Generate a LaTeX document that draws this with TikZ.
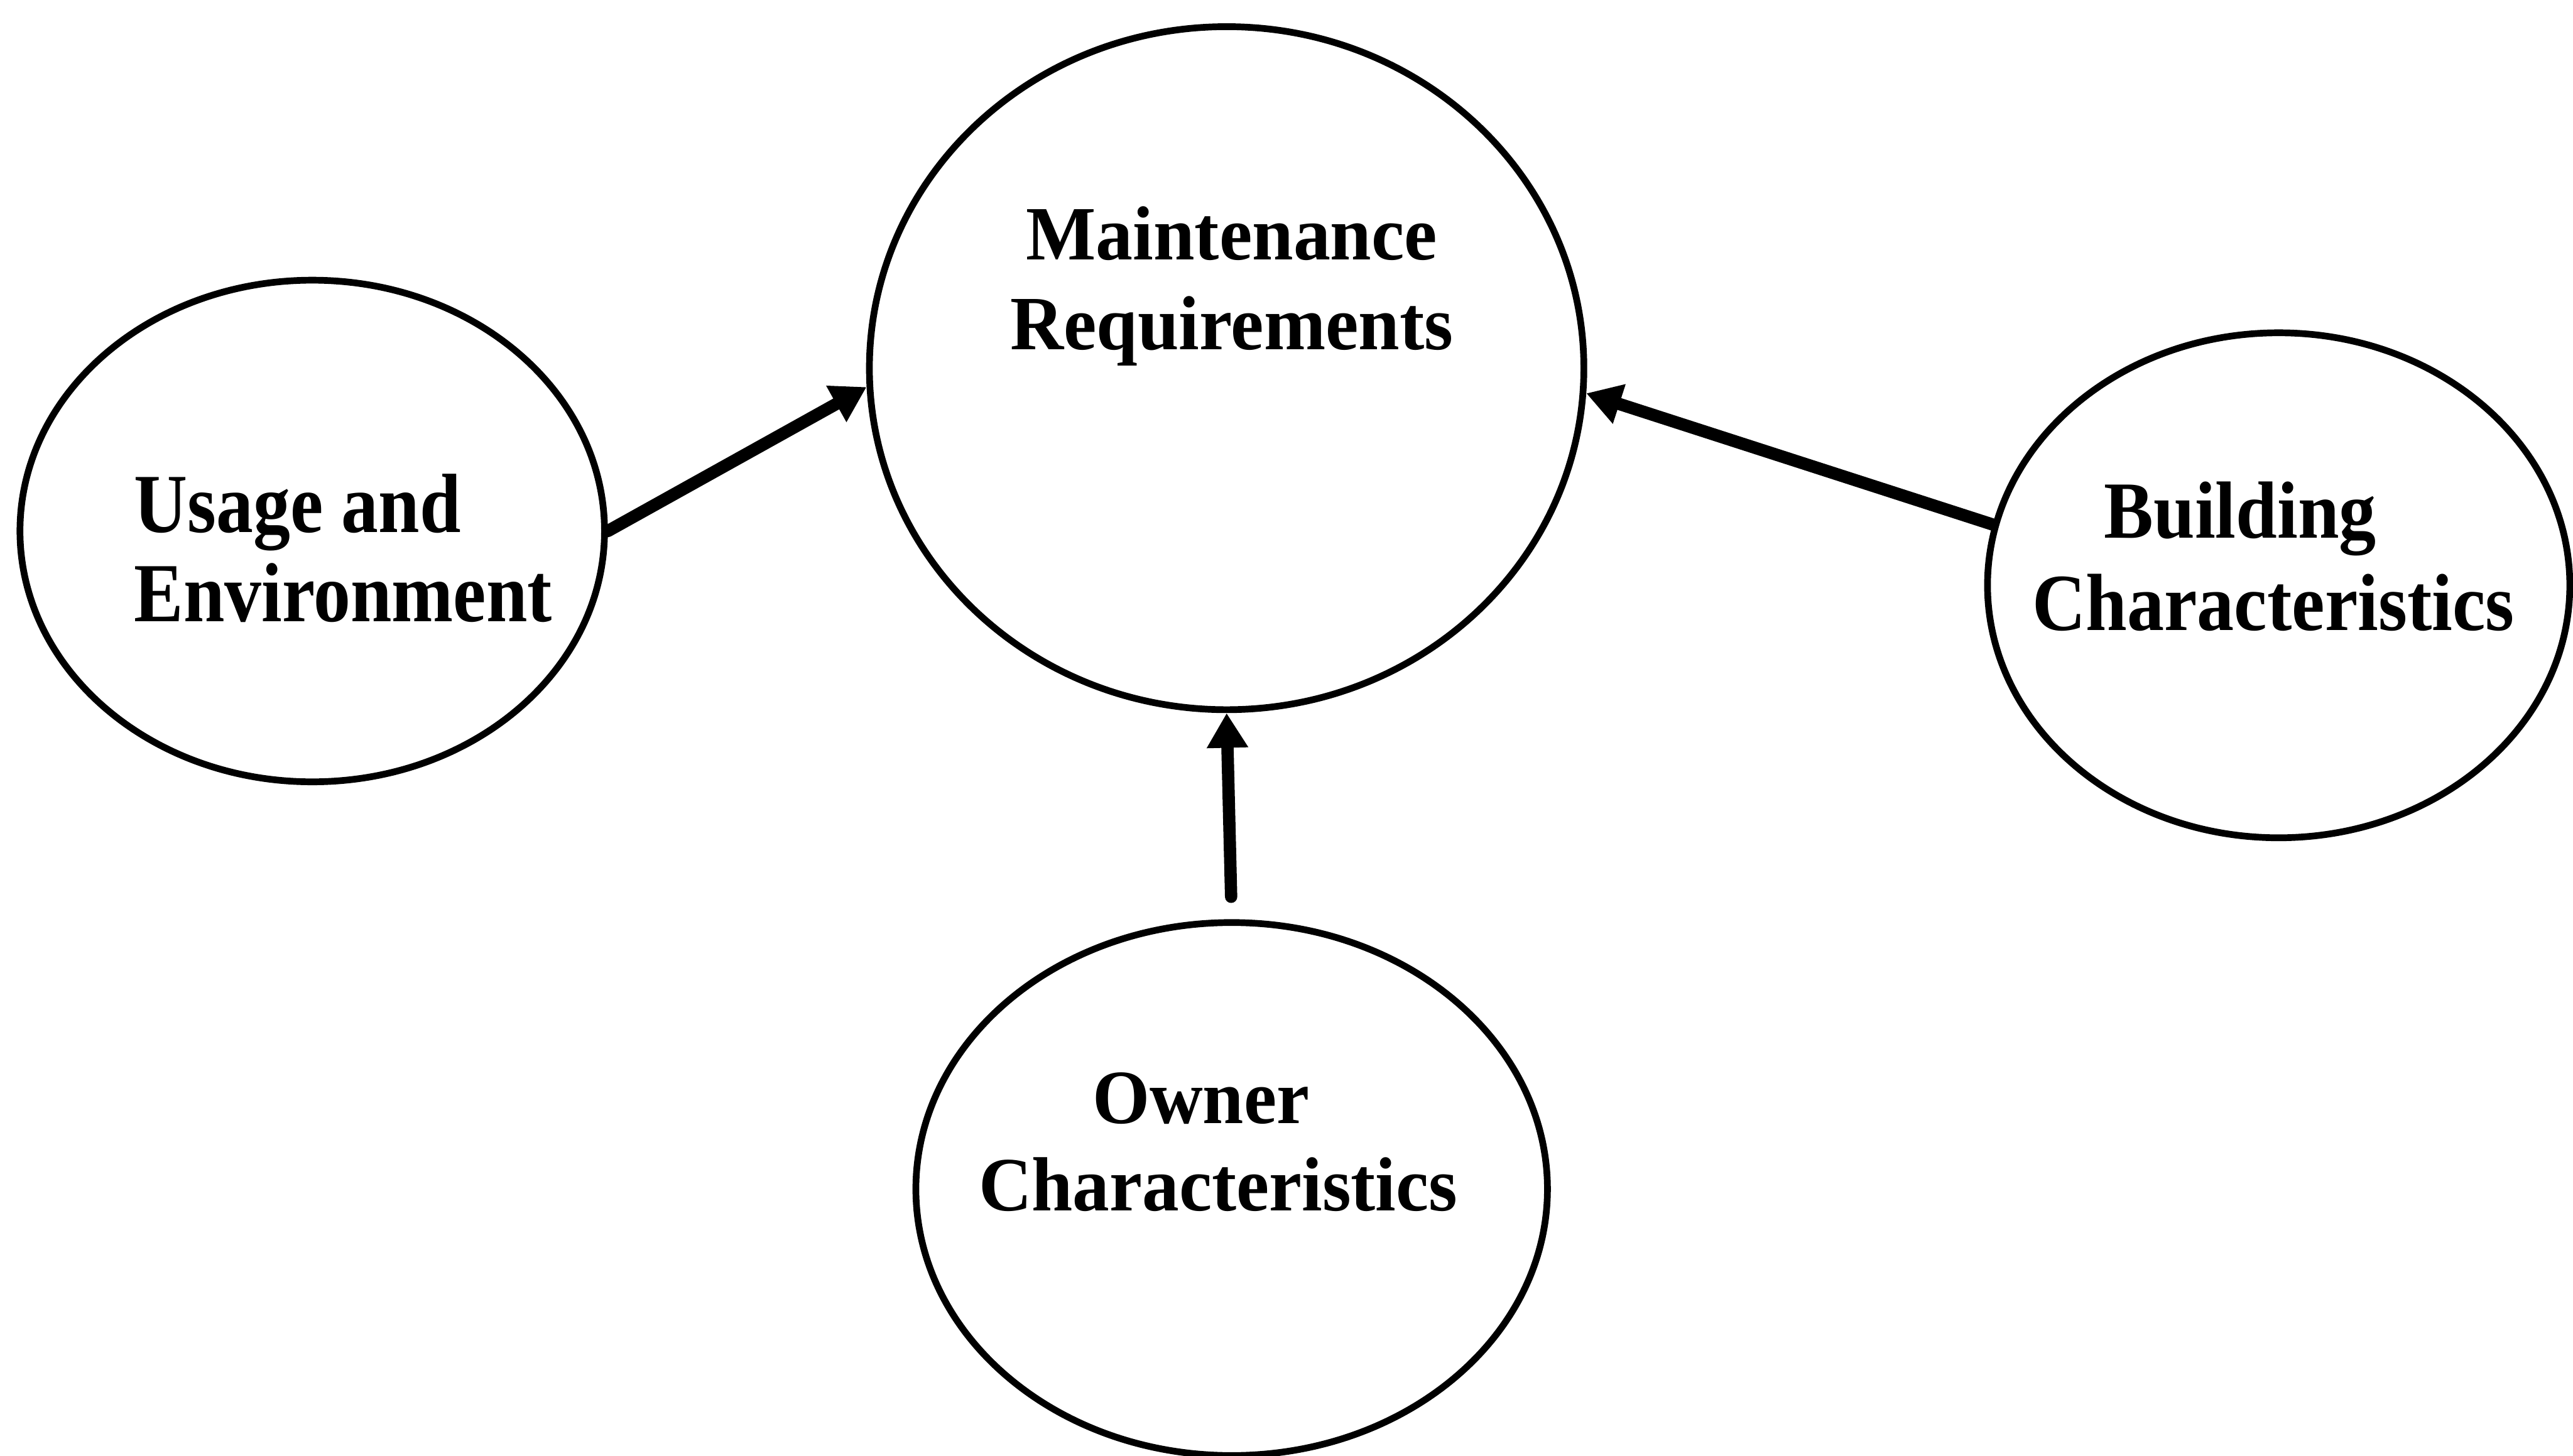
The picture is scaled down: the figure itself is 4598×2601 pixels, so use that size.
\documentclass[tikz,border=0pt]{standalone}
\usepackage{fontspec}
\setmainfont{Liberation Serif}
\newfontfamily\fontUsage[FakeStretch=0.88]{Liberation Serif}
\newfontfamily\fontMaint[FakeStretch=0.965]{Liberation Serif}
\newfontfamily\fontBuild[FakeStretch=0.915]{Liberation Serif}
\newfontfamily\fontOwner[FakeStretch=0.96]{Liberation Serif}
\usetikzlibrary{shapes.geometric,arrows.meta}

\begin{document}
\begin{tikzpicture}[x=0.01cm,y=-0.01cm,
  bubble/.style={ellipse, draw, line width=0.12cm, inner sep=0pt},
  link/.style={line width=0.22cm, line cap=round,
    -{Triangle[length=0.62cm,width=0.7cm]}},
  txt/.style={inner sep=0pt, outer sep=0pt}]

\useasboundingbox (0,0) rectangle (4598,2601);
\fill[white] (0,0) rectangle (4598,2601);
\clip (0,0) rectangle (4598,2601);

% the four bubbles
\node[bubble, minimum width=12.76cm, minimum height=12.2cm] (maint) at (2192,658) {};
\node[bubble, minimum width=10.44cm, minimum height=8.96cm] (usage) at (558,949) {};
\node[bubble, minimum width=10.4cm, minimum height=9.02cm] (build) at (4072,1046) {};
\node[bubble, minimum width=11.28cm, minimum height=9.52cm] (owner) at (2201,2125) {};

% bubble texts (anchored at the baseline of their last line)
\node[txt, anchor=base, align=center,
  font=\fontMaint\bfseries\fontsize{39pt}{45.8pt}\selectfont]
  (maintT) at (2201,625) {Maintenance\\Requirements};
\node[txt, anchor=base west, align=left,
  font=\fontUsage\bfseries\fontsize{42.7pt}{45.5pt}\selectfont]
  (usageT) at (240,1111) {Usage and\\Environment};
\node[txt, anchor=base west, align=left,
  font=\fontBuild\bfseries\fontsize{41.2pt}{47.2pt}\selectfont]
  (buildT) at (3632,1127) {\hspace*{1.28cm}Building\\Characteristics};
\node[txt, anchor=base west, align=left,
  font=\fontOwner\bfseries\fontsize{39pt}{44.4pt}\selectfont]
  (ownerT) at (1749,2164) {\hspace*{2.03cm}Owner\\Characteristics};

% influences on the maintenance requirements
\draw[link] (usage.east) -- (maint.183);
\draw[link] (build.168.5) -- (maint.-4);
\draw[link, shorten <=0.4cm] (owner.north) -- (maint.south);
\end{tikzpicture}
\end{document}
